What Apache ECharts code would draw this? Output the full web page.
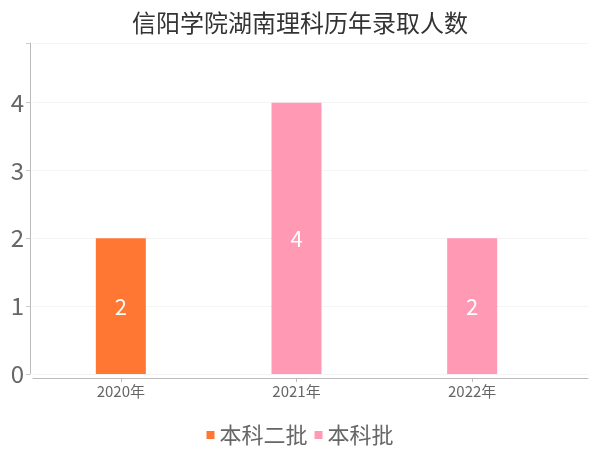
<!DOCTYPE html>
<html>
<head>
<meta charset="utf-8">
<script src="https://cdn.jsdelivr.net/npm/echarts@6/dist/echarts.min.js"></script>
<style>
  html, body { margin: 0; padding: 0; background: #fff; }
  #main { width: 600px; height: 450px; }
</style>
</head>
<body>
<div id="main"></div>
<script>
var titleText = '信阳学院湖南理科历年录取人数';
var years = ['2020年', '2021年', '2022年'];
var seriesNames = ['本科二批', '本科批'];
var erpiValues = [2, '-', '-'];
var benkeValues = ['-', 4, 2];
var yTicks = [0, 1, 2, 3, 4];

var fontCJK = '"Noto Sans CJK SC", "Noto Sans", sans-serif';
var myChart = echarts.init(document.getElementById('main'));

var option = {
    backgroundColor: '#fff',
    textStyle: { fontFamily: fontCJK },
    title: {
        text: titleText,
        left: 'center',
        top: 6,
        textStyle: { fontSize: 24, fontWeight: 'normal', color: '#333', fontFamily: fontCJK }
    },
    legend: {
        data: seriesNames,
        left: 'center',
        top: 419,
        itemWidth: 8,
        itemHeight: 8,
        itemGap: 7,
        icon: 'rect',
        textStyle: { fontSize: 22, color: '#666', fontFamily: fontCJK }
    },
    // grid 0 carries the long axis line and split lines, grid 1 carries the bars
    grid: [
        { left: 33, right: 12, top: 43, bottom: 76 },
        { left: 33, right: 40, top: 43, bottom: 76 }
    ],
    xAxis: [{
        gridIndex: 0,
        type: 'value',
        min: 0,
        max: 1,
        offset: 4,
        axisLine: { show: true, onZero: false, lineStyle: { color: '#bbb' } },
        axisTick: { show: false },
        axisLabel: { show: false },
        splitLine: { show: false }
    }, {
        gridIndex: 1,
        type: 'category',
        data: years,
        offset: 4,
        axisLine: { show: false, onZero: false },
        axisTick: { show: true, alignWithLabel: true, length: 4, lineStyle: { color: '#bbb' } },
        axisLabel: { fontSize: 15, color: '#666', margin: 6, fontFamily: fontCJK }
    }],
    yAxis: [{
        gridIndex: 0,
        type: 'value',
        min: yTicks[0],
        max: 4.88,
        interval: 1,
        offset: 3,
        axisLine: { show: true, onZero: false, lineStyle: { color: '#bbb' } },
        axisTick: { show: true, length: 4, lineStyle: { color: '#ccc' } },
        axisLabel: {
            fontSize: 24, color: '#666', margin: 6,
            formatter: function (v) { return yTicks.indexOf(v) >= 0 ? v : ''; }
        },
        splitLine: { show: true, lineStyle: { color: '#f4f4f4' } }
    }, {
        gridIndex: 1,
        type: 'value',
        min: yTicks[0],
        max: 4.88,
        show: false
    }],
    series: [{
        name: seriesNames[0],
        type: 'bar',
        xAxisIndex: 1,
        yAxisIndex: 1,
        stack: 'total',
        barWidth: 50,
        data: erpiValues,
        itemStyle: { color: '#FF7733' },
        label: { show: true, position: 'inside', color: '#fff', fontSize: 22 }
    }, {
        name: seriesNames[1],
        type: 'bar',
        xAxisIndex: 1,
        yAxisIndex: 1,
        stack: 'total',
        barWidth: 50,
        data: benkeValues,
        itemStyle: { color: '#FF99B4' },
        label: { show: true, position: 'inside', color: '#fff', fontSize: 22 }
    }]
};

myChart.setOption(option);

window.onresize = function () {
    myChart.resize();
};
</script>
</body>
</html>
